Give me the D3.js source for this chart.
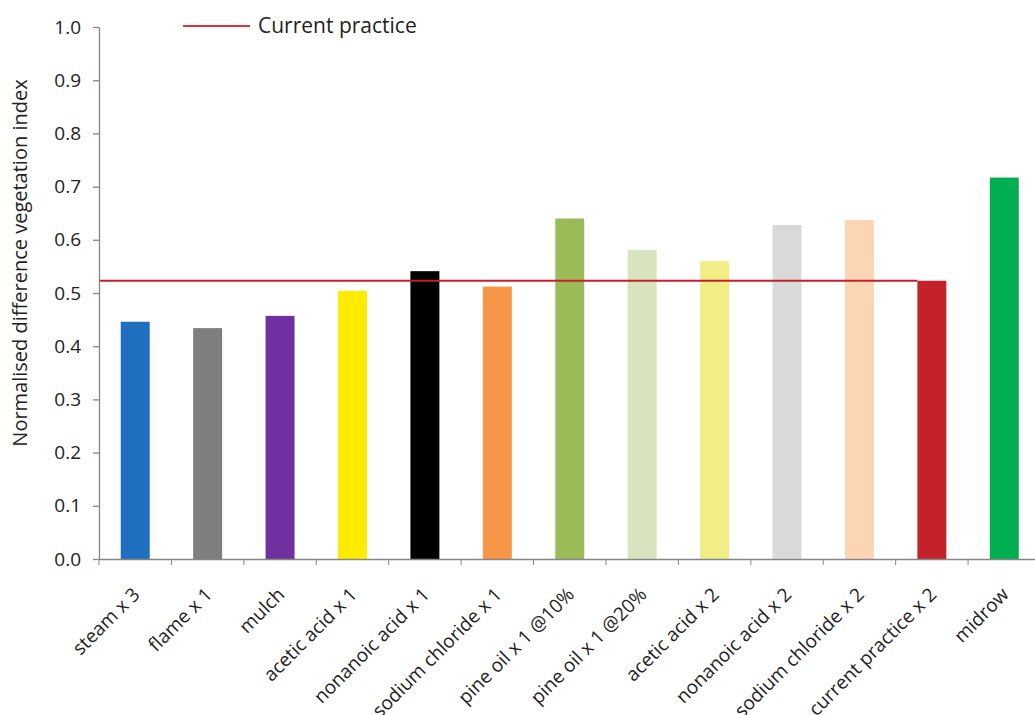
<!DOCTYPE html>
<html>
<head>
<meta charset="utf-8">
<script src="https://cdn.jsdelivr.net/npm/d3@7"></script>
<style>
    body { margin: 0; background: #fff; }
    svg { display: block; font-family: "Open Sans", sans-serif; }
</style>
</head>
<body>
<svg id="chart" width="1035" height="715"></svg>
<script>
var categories = ["steam x 3", "flame x 1", "mulch", "acetic acid x 1", "nonanoic acid x 1",
    "sodium chloride x 1", "pine oil x 1 @10%", "pine oil x 1 @20%", "acetic acid x 2",
    "nonanoic acid x 2", "sodium chloride x 2", "current practice x 2", "midrow"]
var ndvi = [0.446, 0.434, 0.457, 0.504, 0.541, 0.512, 0.640, 0.581, 0.560, 0.628, 0.637, 0.523, 0.717]
var barColors = ["#1f70c1", "#7f7f7f", "#7030a0", "#ffec00", "#000000", "#f79646", "#9bbb59",
    "#d7e4bd", "#f0ee85", "#d9d9d9", "#fcd5b4", "#c4212b", "#00b050"]
var currentPractice = 0.523
var yTicks = [0, 0.1, 0.2, 0.3, 0.4, 0.5, 0.6, 0.7, 0.8, 0.9, 1.0]

var svg = d3.select("#chart")
var plotLeft = 99, plotRight = 1040.5, plotTop = 27, plotBottom = 559
var axisColor = "#868686"

var x = d3.scaleBand().domain(categories).range([plotLeft, plotRight])
    .paddingInner(0.6).paddingOuter(0.3)
var y = d3.scaleLinear().domain([0, 1]).range([plotBottom, plotTop])

// bars
svg.append("g").selectAll("rect")
    .data(categories).enter().append("rect")
    .attr("x", function(d) { return x(d) })
    .attr("y", function(d, i) { return y(ndvi[i]) })
    .attr("width", x.bandwidth())
    .attr("height", function(d, i) { return y(0) - y(ndvi[i]) })
    .attr("fill", function(d, i) { return barColors[i] })

// current practice reference line, stops at its own bar
svg.append("line")
    .attr("x1", plotLeft)
    .attr("x2", x("current practice x 2"))
    .attr("y1", y(currentPractice))
    .attr("y2", y(currentPractice))
    .attr("stroke", "#c41f2b")
    .attr("stroke-width", 2)

// y axis
var yAxis = svg.append("g")
    .attr("transform", "translate(" + plotLeft + ",0)")
    .call(d3.axisLeft(y).tickValues(yTicks).tickFormat(d3.format(".1f"))
        .tickSize(6).tickSizeOuter(0).tickPadding(12))
yAxis.selectAll("text").attr("font-size", 19).attr("fill", "#222")
    .attr("font-family", "Open Sans, sans-serif")

// x axis: line + ticks at category boundaries
var xAxis = svg.append("g")
    .attr("transform", "translate(0," + plotBottom + ")")
    .call(d3.axisBottom(x).tickSize(0).tickSizeOuter(0).tickFormat(""))
var bounds = categories.map(function(d) { return x(d) - x.step() * x.paddingOuter() })
bounds.push(plotRight)
xAxis.selectAll(".bound").data(bounds).enter().append("line")
    .attr("class", "bound")
    .attr("x1", function(d) { return d })
    .attr("x2", function(d) { return d })
    .attr("y1", 0).attr("y2", 6)
    .attr("stroke", axisColor)

svg.selectAll(".domain, .tick line")
    .attr("stroke", axisColor)
    .attr("stroke-width", 1.3)

// rotated category labels
svg.append("g").selectAll("text")
    .data(categories).enter().append("text")
    .attr("transform", function(d) {
        return "translate(" + (x(d) + x.bandwidth() / 2 + 1) + "," + (plotBottom + 32) + ") rotate(-45)"
    })
    .attr("text-anchor", "end")
    .attr("dy", "0.35em")
    .attr("font-size", 19)
    .attr("fill", "#222")
    .text(function(d) { return d })

// y axis title
svg.append("text")
    .attr("transform", "translate(20," + ((plotTop + plotBottom) / 2 - 30) + ") rotate(-90)")
    .attr("text-anchor", "middle")
    .attr("dy", "0.35em")
    .attr("font-size", 20)
    .attr("fill", "#222")
    .text("Normalised difference vegetation index")

// legend
var legend = svg.append("g").attr("transform", "translate(183,26)")
legend.append("line")
    .attr("x1", 0).attr("x2", 67)
    .attr("stroke", "#e0333a").attr("stroke-width", 2)
legend.append("text")
    .attr("x", 75)
    .attr("dy", "0.35em")
    .attr("font-size", 21)
    .attr("fill", "#222")
    .text("Current practice")
</script>
</body>
</html>
